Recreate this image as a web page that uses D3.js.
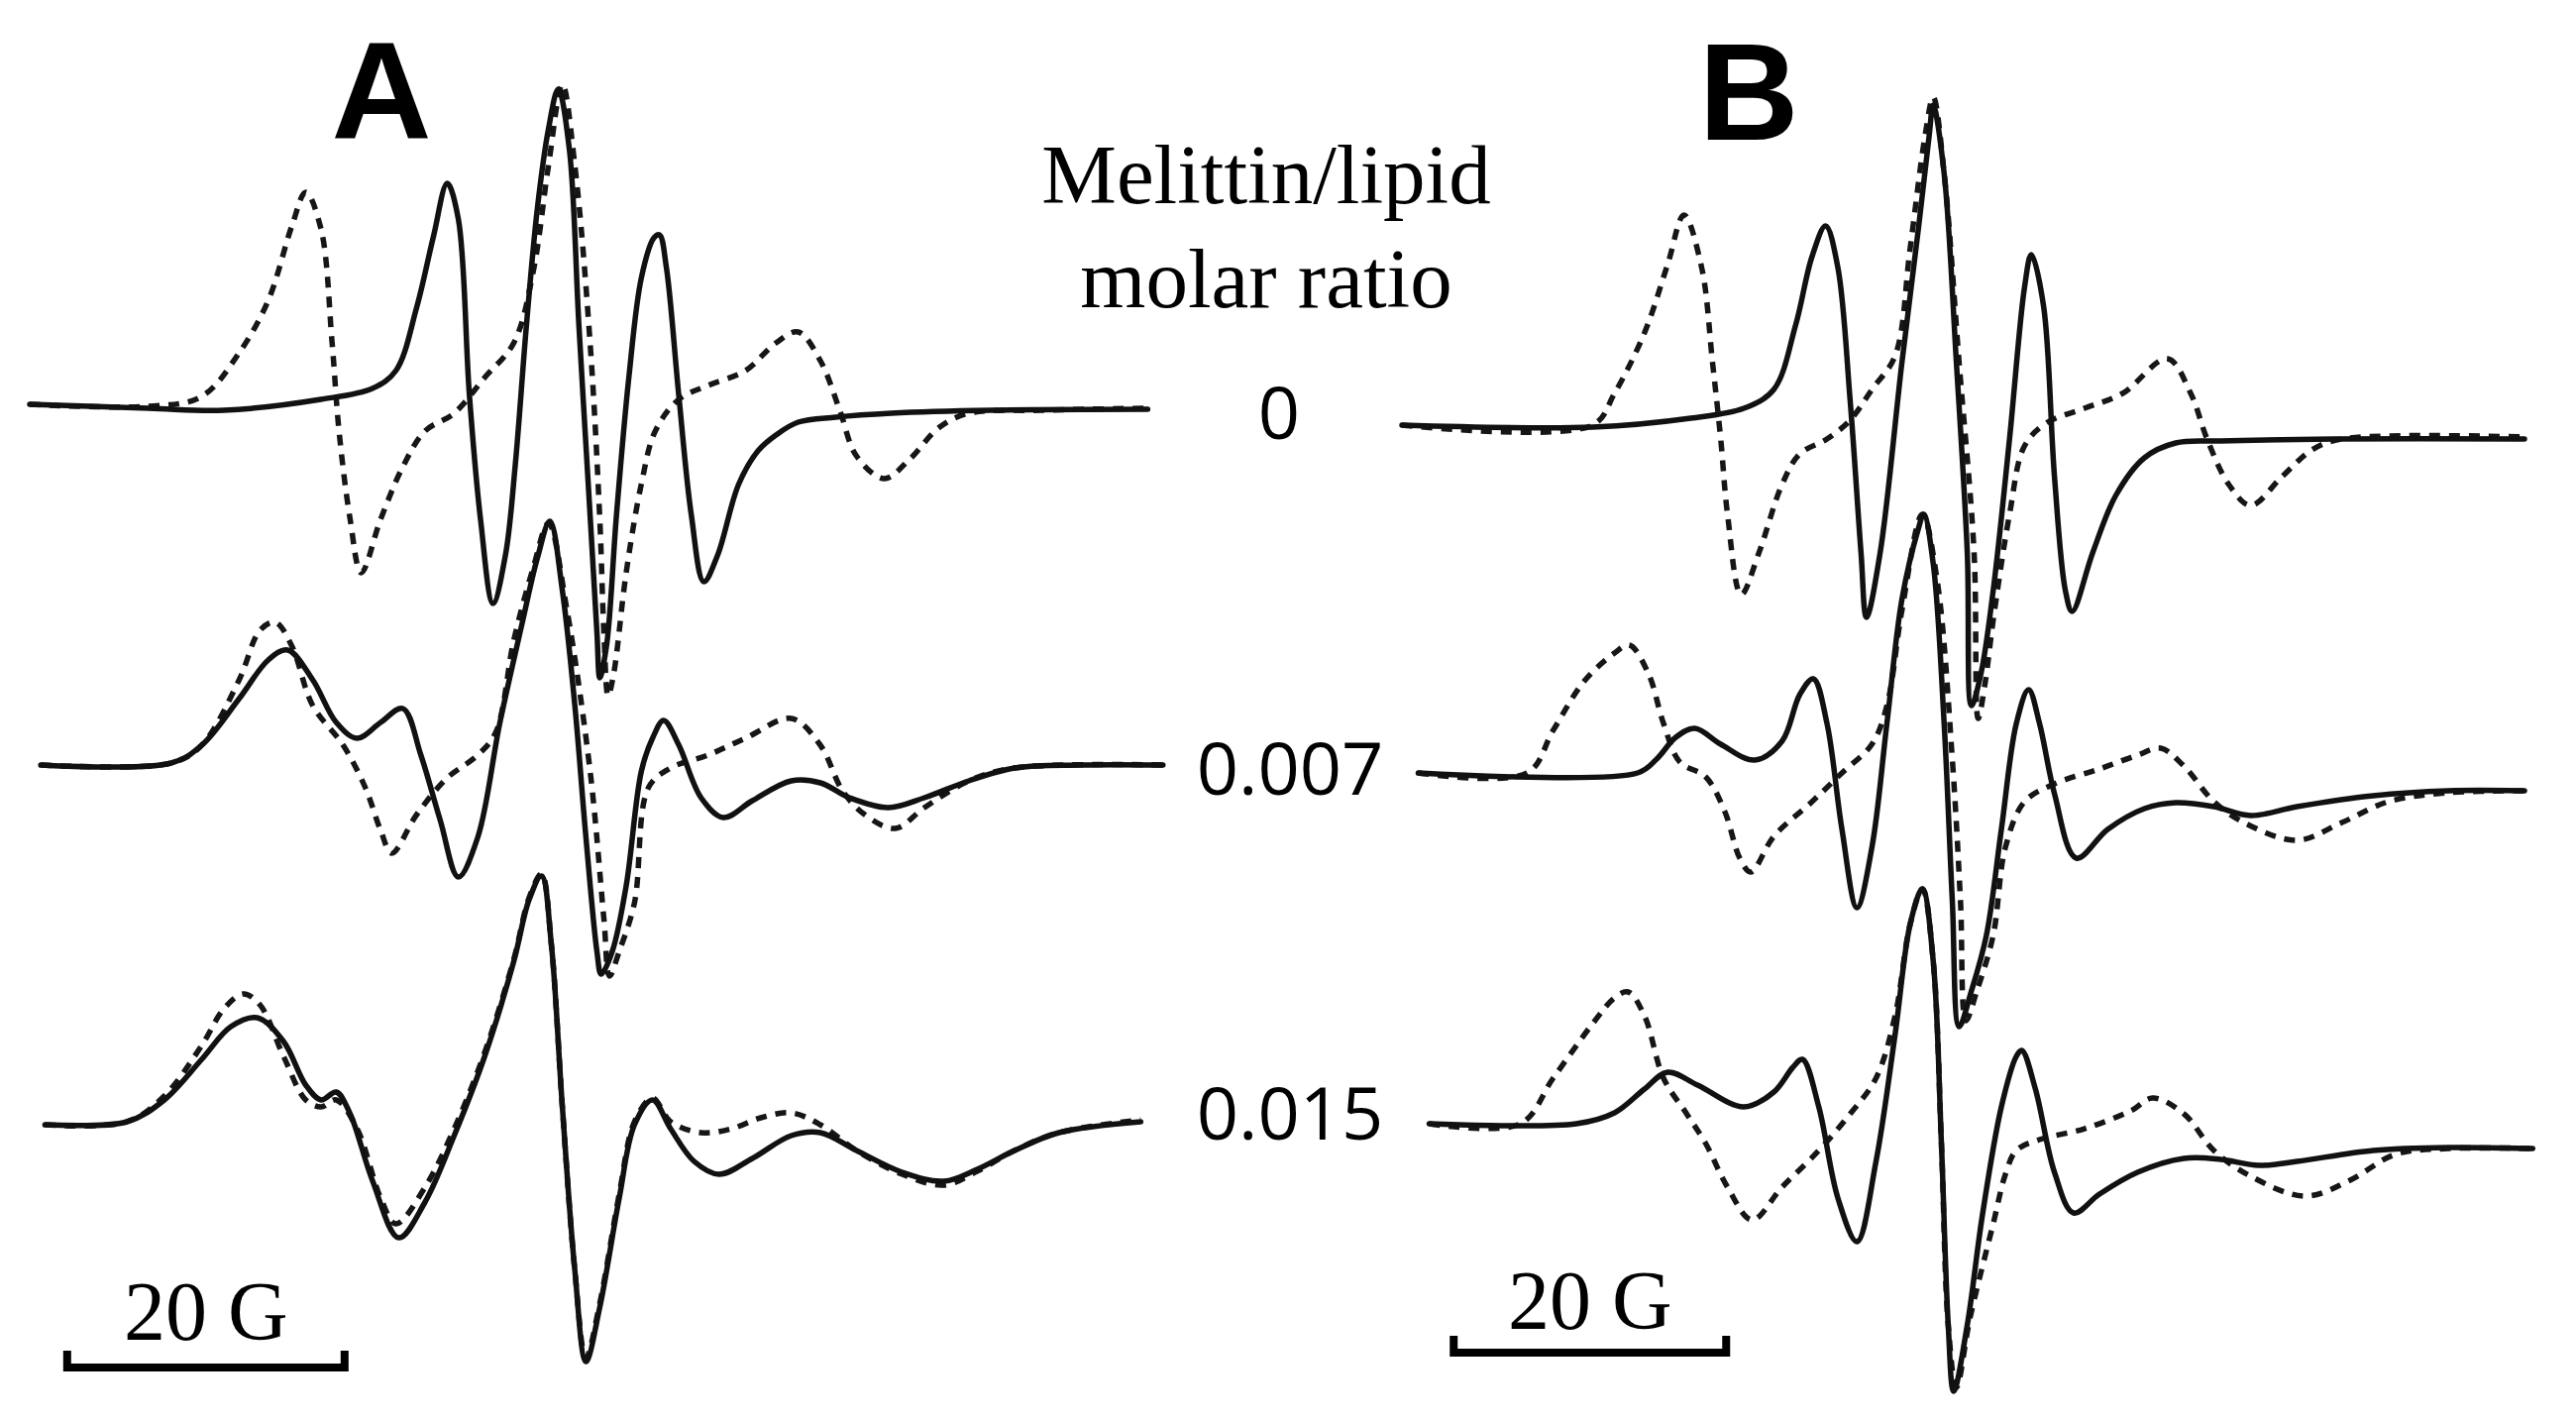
<!DOCTYPE html>
<html><head><meta charset="utf-8">
<script src="https://cdn.jsdelivr.net/npm/d3@7"></script>
<style>html,body{margin:0;padding:0;background:#fff;}svg{display:block;}</style>
</head><body>
<svg id="chart" width="2600" height="1436"></svg>
<script>
// ---------- DATA (field in G from scan start, signal in arb. units) ----------
const panels = ["A", "B"];
const ratios = ["0", "0.007", "0.015"];
const legendTitle = ["Melittin/lipid", "molar ratio"];
const scaleBarG = 20;
const scaleBarLabel = "20 G";

// Panel A, ratio 0
const A0_solid = [[0,0],[8.6,-1],[14,-1.5],[21,1.25],[24.7,4],[26.4,8.5],[27.9,24.5],[29.1,42.25],[30.1,55.75],[30.9,46.75],[31.7,2.25],[32.5,-29],[33.4,-50.25],[34.3,-38],[35,-15.5],[35.8,19.5],[36.6,49.5],[37.4,69.5],[38.1,79.5],[38.9,64.5],[39.6,19.5],[40.4,-28],[40.9,-58],[41.1,-69],[41.6,-60.5],[42.3,-28],[43.2,7],[44.1,32],[45,42],[45.4,42.75],[45.9,34.5],[46.8,2],[47.7,-28],[48.6,-44.75],[49.6,-38],[51.1,-20.25],[52.5,-11.75],[53.8,-7.75],[55.4,-4.5],[58.1,-3.25],[62.1,-2.25],[69.3,-1.5],[80.6,-1.25]];
const A0_dashed = [[0,0],[8.6,-0.5],[12.4,2],[15.1,13],[17.2,26.25],[18.9,45],[19.9,53.5],[21,44.25],[21.8,15.5],[22.3,-6.75],[23.1,-29],[23.9,-42.5],[25.3,-29],[26.9,-15.75],[28.5,-6.75],[30.6,-2.25],[32.8,6.75],[34.9,15.5],[36.3,33.5],[37.4,60.25],[38.4,80.75],[39.3,60.25],[40.4,15.5],[41.1,-29],[41.4,-58],[41.7,-73.5],[42.1,-68],[43,-42.5],[44.1,-20],[45.1,-6.75],[46.8,1.25],[48.9,4.75],[51.6,8.5],[53.8,15.5],[55.4,18.25],[57,11],[58.4,-1.5],[59.6,-13],[61.6,-18.75],[63.4,-14],[65.6,-5.75],[67.7,-2.25],[72.9,-1.5],[80.6,-1]];
// Panel A, ratio 0.007
const A1_solid = [[0.8,0],[10.2,0.5],[12.4,5],[15.1,16.75],[17.2,26.5],[18.6,29],[20.4,21.5],[22.1,10.75],[23.6,6.75],[25.3,10.75],[26.9,14.25],[28.2,2.5],[29.6,-14],[30.9,-28.25],[32.3,-18.25],[33.9,10.75],[35.5,35.75],[36.6,52.25],[37.5,61.5],[38.4,44],[39.3,15],[40.1,-18.25],[40.9,-47.25],[41.2,-52.75],[42,-47],[43,-30.5],[44.1,-1.5],[44.9,6.75],[45.7,11.25],[46.8,5],[48.4,-8.25],[50,-13.25],[52.1,-9],[54.9,-4],[57,-4.5],[59.1,-8.25],[61.9,-10.75],[64.5,-8.25],[67.7,-4],[71,-0.75],[75.8,0],[81.7,0]];
const A1_dashed = [[0.8,0],[10.2,0.5],[12.4,5],[15.1,21.5],[16.6,34],[17.7,36],[18.9,30],[20.4,15],[22.6,5],[24.2,-5.75],[25.3,-16.5],[26.1,-22.25],[27.9,-12.5],[30.1,-3.25],[32.3,2.5],[33.6,8.25],[34.9,31.5],[36.3,49.75],[37.4,61],[38.7,39.75],[40.4,-1.5],[41.4,-39],[41.8,-53.25],[42.5,-47],[43.6,-34.75],[44.6,-5.75],[46.2,-0.75],[48.9,2.5],[51.6,6.75],[54.9,11.75],[57,5],[58.6,-6.5],[60.2,-12.5],[62.4,-16],[64.5,-10.75],[67.7,-4],[71,-0.75],[81.7,0]];
// Panel A, ratio 0.015
const A2_solid = [[1.1,-0.25],[7,0.5],[9.7,6],[12.4,16.25],[14.5,24.5],[16.4,26.75],[18.3,20.75],[19.9,9.75],[21,6],[22.1,8],[23.1,2.5],[24.7,-14.25],[26.6,-28.75],[28.5,-19.75],[30.6,-3],[32.8,17],[34.9,41],[36,56.5],[36.9,62.5],[37.6,45.5],[38.4,4.25],[39.3,-37],[40.1,-60],[41.1,-46.25],[42.5,-18.75],[43.6,-0.25],[44.9,6],[46.2,-1.25],[47.9,-9.5],[49.7,-12.75],[52.1,-8.75],[54.9,-3],[57,-2.25],[59.6,-6.75],[62.9,-12.25],[65.9,-14.5],[68.3,-11.5],[71,-6.75],[74.2,-2.25],[80.1,0.5]];
const A2_dashed = [[1.1,-0.25],[7,0.5],[9.7,7],[12.4,19.75],[14,29],[15.4,32.75],[16.6,30],[18.3,17],[19.9,6],[21,4.25],[22.1,6],[23.6,-1.25],[25.3,-18.75],[26.4,-25.25],[28.5,-16],[30.6,-1.25],[32.8,18],[34.9,41.5],[36,57],[36.9,63],[37.6,45.5],[38.4,4.25],[39.3,-37],[40.1,-59],[41.1,-45.25],[42.5,-17.75],[43.6,0.5],[44.9,6.5],[46.2,0.5],[48.4,-2.25],[50.6,-1.25],[52.7,1.5],[54.9,2.75],[57,-0.25],[59.6,-6.75],[62.9,-12.75],[65.9,-15.5],[68.3,-12],[71,-6.75],[74.2,-2.25],[80.1,1]];
// Panel B, ratio 0
const B0_solid = [[0,0.25],[14,-0.25],[21.2,2],[25.1,4.5],[27.3,9.25],[28.9,25.5],[30.1,42.75],[31.1,50.5],[32,40],[32.9,6.5],[33.7,-32],[34.1,-48.25],[35.1,-32],[36.7,16],[37.9,49.5],[38.7,73.25],[39,81],[39.8,63.75],[40.7,16],[41.5,-32],[41.8,-70.5],[42.5,-62.5],[43.4,-41.5],[44.6,-3.25],[45.7,35],[46.2,43.25],[47.1,30.25],[47.9,-12.75],[48.7,-41.5],[49.2,-46.75],[50.7,-32],[52.4,-17.5],[54.5,-8],[56.8,-4.25],[60.1,-3.75],[68.5,-3.25],[82.4,-3.25]];
const B0_dashed = [[0,0.25],[14,0.25],[15.6,8.25],[17.8,23.5],[19.5,40.75],[20.7,53.25],[22,40],[22.8,16],[23.4,-3.25],[23.9,-22.25],[24.9,-42.5],[26.2,-32],[27.9,-14.75],[29.2,-7],[31.2,-3.25],[32.9,1.5],[34.5,9.25],[36.2,17.75],[37.3,44.75],[38.4,73.25],[39,83],[39.8,63.75],[40.9,16],[42,-32],[42.3,-73.75],[42.8,-65],[43.4,-49],[44.6,-22.25],[45.7,-5],[47.3,0.75],[50.1,4.5],[52.9,8.25],[56.2,17],[57.9,8.25],[59.1,-3.25],[60.7,-14.75],[62.3,-20],[64.6,-12.75],[66.8,-6],[69,-3.25],[82.4,-2.75]];
// Panel B, ratio 0.007
const B1_solid = [[1.2,0],[17.3,0],[18.7,3.5],[20.1,9],[21.5,11.25],[23.4,7.25],[25.9,3.25],[27.9,8],[29.2,19.75],[30.2,23.75],[31.2,12.5],[32.3,-14.25],[33.4,-34],[34.5,-18.75],[35.6,12.5],[36.7,43.75],[37.9,61.5],[38.3,65.25],[39,52.75],[39.8,12.5],[40.4,-32.25],[40.9,-64],[41.8,-55],[42.9,-41],[44,-14.25],[45.1,12.5],[46,21],[46.8,12.5],[47.9,-5.25],[49.5,-21.5],[51.8,-14.25],[54.5,-9],[56.8,-7.5],[59.6,-8.5],[62.3,-10.75],[65.7,-8.5],[71.3,-5.75],[76.8,-4.5],[82.4,-4.5]];
const B1_dashed = [[1.2,0],[9.2,0],[11.1,10.75],[13.4,23.25],[15.6,30.25],[16.7,32.25],[18.1,25],[19.2,12.5],[20.4,2.75],[22.3,-1],[23.7,-9.75],[24.8,-21.5],[25.6,-25],[27.3,-16],[30.1,-7.25],[32.3,0],[34.5,7.25],[35.6,17],[36.7,41],[38.2,65.25],[39.3,48.25],[40.4,3.5],[41,-32.25],[41.4,-62.5],[42.2,-55],[43.4,-41],[44.3,-18.75],[45.7,-7.25],[47.9,-2.75],[51.2,1],[54,4.5],[55.7,6.25],[57.4,1.75],[59.6,-7.25],[61.8,-12.5],[65.7,-17],[69,-12.5],[72.4,-7.25],[76.8,-5],[82.4,-4.5]];
// Panel B, ratio 0.015
const B2_solid = [[2,0],[12.8,0],[15.6,2.75],[17.8,8.75],[19.5,13],[21.7,9.75],[25.1,4.25],[27.3,8],[28.7,14.25],[29.4,16.25],[30.6,4.25],[32,-18.75],[33.4,-29.75],[34.8,-9.5],[36.2,22.5],[37.3,50.25],[38.2,59.25],[39,41],[39.6,-5],[40.1,-50.75],[40.5,-67.5],[41.5,-50.75],[42.6,-23.25],[44,4.25],[45.1,17],[45.5,18.5],[46.5,8.75],[47.9,-12.25],[49.3,-22.5],[51.2,-17.75],[54,-12.25],[57.4,-8.75],[60.1,-9],[62.9,-10.5],[65.7,-9.5],[71.3,-6.75],[76.8,-6],[83,-6.25]];
const B2_dashed = [[2,0],[8.7,0],[11.1,11.5],[14,25.25],[15.6,31.75],[16.6,33.25],[17.8,27.25],[19.2,11.5],[20.9,2.5],[22.3,-5],[23.9,-16],[25.7,-24.25],[27.9,-16],[30.6,-6.75],[32.9,2.5],[34.8,11.5],[36.2,27.25],[37.3,50.25],[38.2,59.25],[39,41],[39.6,-5],[40.1,-50.75],[40.7,-66.5],[41.7,-49],[43.4,-25.25],[44.3,-12.75],[45.1,-6.75],[46.8,-4],[50.1,-1.25],[53.5,3.25],[55.1,6.5],[57.4,2.5],[59.6,-6.75],[62.3,-13.25],[66.3,-18.25],[69.6,-14.25],[72.9,-7.75],[76.8,-6.25],[83,-6.25]];

const spectra = {
  A: [[A0_solid, A0_dashed], [A1_solid, A1_dashed], [A2_solid, A2_dashed]],
  B: [[B0_solid, B0_dashed], [B1_solid, B1_dashed], [B2_solid, B2_dashed]]
};

// ---------- LAYOUT ----------
const layout = {
  A: { x0: 30, pxPerG: 14.0, baselines: [408, 772, 1134], barStart: 2.7, barY: 1380, labelX: 385, labelY: 140, barTextY: 1352 },
  B: { x0: 1415, pxPerG: 13.75, baselines: [430, 780, 1134], barStart: 3.8, barY: 1365, labelX: 1765, labelY: 141, barTextY: 1341 }
};
const pxPerUnit = 4;
const ratioPos = [{x: 1291, y: 443}, {x: 1302, y: 802}, {x: 1302, y: 1150}];

const svg = d3.select("#chart");
svg.append("rect").attr("width", 2600).attr("height", 1436).attr("fill", "#fff");

panels.forEach(p => {
  const L = layout[p];
  const x = d3.scaleLinear().domain([0, 20]).range([L.x0, L.x0 + 20 * L.pxPerG]);
  const g = svg.append("g").attr("class", "panel-" + p);
  spectra[p].forEach((pair, i) => {
    const base = L.baselines[i];
    const y = d3.scaleLinear().domain([0, 100]).range([base, base - 100 * pxPerUnit]);
    const line = d3.line().x(d => x(d[0])).y(d => y(d[1])).curve(d3.curveCatmullRom.alpha(0.5));
    // dashed (simulated) first, solid on top
    g.append("path").datum(pair[1]).attr("d", line)
      .attr("fill", "none").attr("stroke", "#161616").attr("stroke-width", 5.5)
      .attr("stroke-dasharray", "11,9").attr("stroke-linejoin", "round");
    g.append("path").datum(pair[0]).attr("d", line)
      .attr("fill", "none").attr("stroke", "#111").attr("stroke-width", 5.5)
      .attr("stroke-linejoin", "round").attr("stroke-linecap", "round");
  });
  // panel label
  g.append("text").attr("x", L.labelX).attr("y", L.labelY).attr("text-anchor", "middle")
    .attr("font-family", "'Liberation Sans', Arial, sans-serif").attr("font-weight", 700)
    .attr("font-size", 140).attr("fill", "#000").text(p);
  // scale bar
  const bx1 = x(L.barStart), bx2 = x(L.barStart + scaleBarG);
  const bar = g.append("g").attr("class", "scalebar");
  bar.append("path")
    .attr("d", `M${bx1},${L.barY - 17}V${L.barY}H${bx2}V${L.barY - 17}`)
    .attr("fill", "none").attr("stroke", "#000").attr("stroke-width", 8);
  bar.append("text").attr("x", (bx1 + bx2) / 2).attr("y", L.barTextY).attr("text-anchor", "middle")
    .attr("font-family", "'Liberation Serif', 'Times New Roman', serif")
    .attr("font-size", 84).attr("fill", "#000").text(scaleBarLabel);
});

// legend title and ratio labels
legendTitle.forEach((t, i) => {
  svg.append("text").attr("x", 1278).attr("y", 205 + i * 105).attr("text-anchor", "middle")
    .attr("font-family", "'Liberation Serif', 'Times New Roman', serif")
    .attr("font-size", 85).attr("fill", "#000").text(t);
});
ratios.forEach((r, i) => {
  svg.append("text").attr("x", ratioPos[i].x).attr("y", ratioPos[i].y).attr("text-anchor", "middle")
    .attr("font-family", "'Open Sans', 'Liberation Sans', sans-serif")
    .attr("font-size", 74).attr("fill", "#000").text(r);
});
</script>
</body></html>
